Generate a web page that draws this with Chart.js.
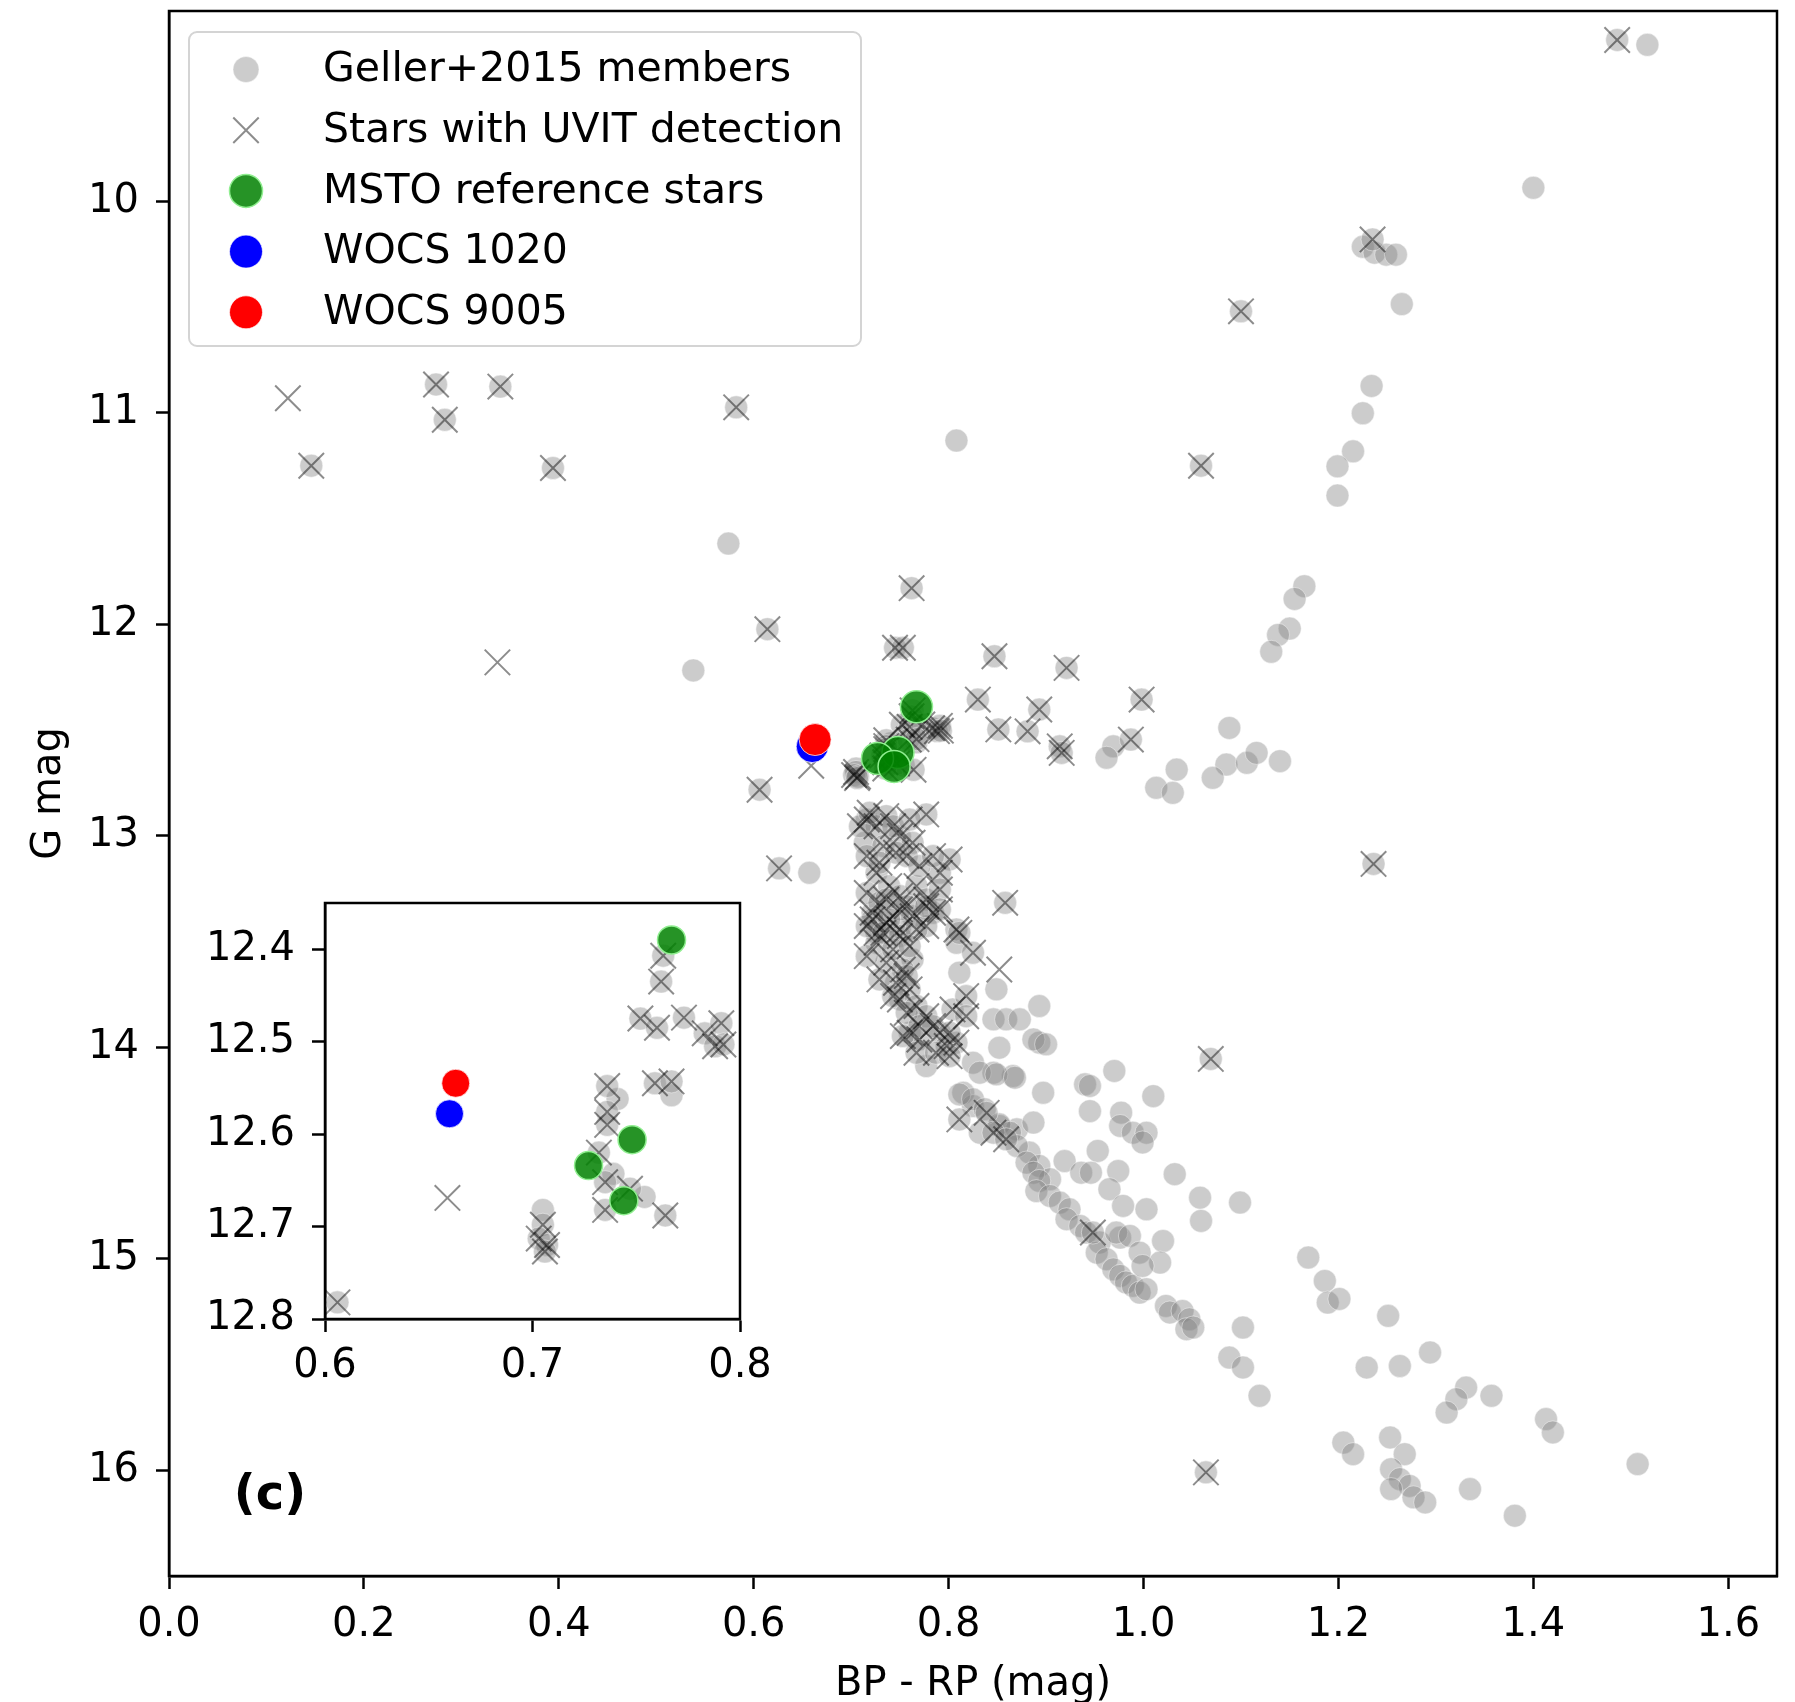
<!DOCTYPE html>
<html>
<head>
<meta charset="utf-8">
<title>Colour-magnitude diagram</title>
<script src="https://cdn.jsdelivr.net/npm/chart.js@4.4.0/dist/chart.umd.min.js"></script>
<style>
    html, body { margin: 0; padding: 0; background: #fff; }
    #wrap { position: relative; width: 1795px; height: 1702px; }
    #cmd-main { position: absolute; left: 0; top: 0; }
    #cmd-inset { position: absolute; left: 180px; top: 880px; }
</style>
</head>
<body>
<div id="wrap">
    <canvas id="cmd-main" width="1795" height="1702"></canvas>
    <canvas id="cmd-inset" width="600" height="520"></canvas>
</div>
<script>
// tick values
var xTicks = [ 0, 0.2, 0.4, 0.6, 0.8, 1.0, 1.2, 1.4, 1.6 ];
var yTicks = [ 10, 11, 12, 13, 14, 15, 16 ];
var insetXTicks = [ 0.6, 0.7, 0.8 ];
var insetYTicks = [ 12.4, 12.5, 12.6, 12.7, 12.8 ];

var legendLabels = [ 'Geller+2015 members', 'Stars with UVIT detection', 'MSTO reference stars', 'WOCS 1020', 'WOCS 9005' ];

// [BP-RP, G] members without a UVIT detection
var membersOnly = [
    [0.574, 11.618], [0.538, 12.218], [0.808, 11.131], [0.657, 13.175],
    [1.517, 9.260], [1.400, 9.936], [1.225, 10.215], [1.237, 10.243], [1.249, 10.252], [1.259, 10.252], [1.265, 10.486],
    [1.234, 10.873], [1.225, 11.002], [1.215, 11.182], [1.199, 11.253], [1.199, 11.391],
    [1.165, 11.820], [1.155, 11.880], [1.150, 12.020], [1.138, 12.050], [1.131, 12.130],
    [0.969, 12.577], [0.962, 12.631], [1.034, 12.687], [1.013, 12.773], [1.030, 12.797],
    [1.088, 12.490], [1.085, 12.663], [1.071, 12.726], [1.106, 12.655], [1.116, 12.608], [1.140, 12.647],
    [0.741, 12.562], [0.767, 12.558], [0.739, 12.643], [0.754, 12.668], [0.705, 12.682], [0.714, 13.033],
    [0.763, 13.585], [0.808, 13.506], [0.811, 13.647], [0.849, 13.726], [0.777, 14.089], [0.825, 14.073],
    [0.893, 13.805], [0.846, 13.868], [0.859, 13.868], [0.873, 13.868], [0.893, 13.978], [0.852, 14.002],
    [0.897, 14.215], [0.866, 14.136], [0.846, 14.120], [0.832, 14.120], [0.815, 14.215], [0.825, 14.278],
    [0.832, 14.404], [0.852, 14.372], [0.870, 14.388], [0.887, 14.356], [0.883, 14.498], [0.893, 14.561], [0.904, 14.624],
    [0.887, 13.963], [0.900, 13.986], [0.849, 14.128], [0.868, 14.144], [0.940, 14.175], [0.945, 14.183], [0.970, 14.112],
    [1.010, 14.231], [0.945, 14.302], [0.977, 14.309], [0.976, 14.372], [0.989, 14.404], [1.003, 14.404], [0.999, 14.450],
    [0.953, 14.490], [0.919, 14.538], [0.936, 14.593], [0.946, 14.593], [0.974, 14.585], [1.032, 14.600], [0.965, 14.671],
    [1.058, 14.711], [1.099, 14.734], [0.979, 14.750], [1.003, 14.766], [1.059, 14.821], [1.020, 14.916], [0.976, 14.900],
    [1.017, 15.018], [1.169, 14.994], [1.186, 15.105], [1.189, 15.207], [1.201, 15.190], [1.251, 15.270], [1.102, 15.325],
    [0.811, 14.223], [0.825, 14.246], [0.837, 14.293], [0.852, 14.364], [0.863, 14.404], [0.870, 14.467], [0.880, 14.545],
    [0.887, 14.593], [0.893, 14.632], [0.890, 14.680], [0.904, 14.703], [0.914, 14.734], [0.924, 14.766], [0.921, 14.813],
    [0.935, 14.845], [0.941, 14.876], [0.955, 14.923], [0.952, 14.971], [0.962, 15.002], [0.969, 15.050], [0.976, 15.081],
    [0.982, 15.112], [0.989, 15.128], [0.996, 15.160], [1.003, 15.144], [1.023, 15.223], [1.027, 15.254], [1.040, 15.247],
    [1.047, 15.286], [1.044, 15.333], [1.051, 15.325], [0.972, 14.876], [0.986, 14.892], [0.996, 14.971], [0.999, 15.034],
    [1.088, 15.467], [1.102, 15.514], [1.119, 15.648], [1.229, 15.514], [1.263, 15.507], [1.294, 15.443], [1.331, 15.609],
    [1.321, 15.664], [1.311, 15.727], [1.357, 15.648], [1.413, 15.758], [1.420, 15.821], [1.507, 15.971], [1.205, 15.869],
    [1.215, 15.924], [1.253, 15.845], [1.268, 15.924], [1.254, 15.995], [1.263, 16.042], [1.273, 16.074], [1.254, 16.089],
    [1.277, 16.128], [1.289, 16.152], [1.335, 16.089], [1.381, 16.215]
];

// members that also have a UVIT detection (circle + cross)
var uvitMembers = [
    [0.146, 11.250], [0.274, 10.866], [0.283, 11.033], [0.340, 10.876], [0.394, 11.261], [0.582, 10.974],
    [0.614, 12.023], [0.606, 12.782], [0.626, 13.154], [0.762, 11.829], [0.745, 12.111], [0.753, 12.111],
    [0.847, 12.151], [0.921, 12.206], [0.830, 12.356], [0.998, 12.356], [0.893, 12.403], [0.851, 12.497],
    [0.881, 12.506], [0.914, 12.577], [0.916, 12.608], [0.987, 12.545], [1.059, 11.250], [1.100, 10.520],
    [1.486, 9.237], [1.235, 10.180], [1.236, 13.133], [1.069, 14.055], [1.064, 16.010], [0.858, 13.317],
    [0.763, 12.407], [0.762, 12.435], [0.752, 12.475], [0.760, 12.485], [0.773, 12.474], [0.783, 12.491],
    [0.791, 12.480], [0.788, 12.505], [0.792, 12.503], [0.736, 12.548], [0.759, 12.545], [0.767, 12.543],
    [0.736, 12.576], [0.736, 12.590], [0.732, 12.620], [0.735, 12.652], [0.747, 12.659], [0.735, 12.682],
    [0.764, 12.688], [0.705, 12.698], [0.703, 12.713], [0.707, 12.720], [0.706, 12.727],
    [0.716, 12.923], [0.736, 12.907], [0.777, 12.899], [0.726, 12.955], [0.750, 13.002], [0.763, 13.033],
    [0.733, 13.049], [0.757, 13.096], [0.801, 13.112], [0.791, 13.175], [0.726, 13.175], [0.739, 13.238],
    [0.750, 13.285], [0.767, 13.238], [0.777, 13.301], [0.791, 13.254], [0.808, 13.443], [0.736, 13.411],
    [0.722, 13.364], [0.763, 13.380], [0.784, 13.364], [0.716, 13.270], [0.729, 13.317],
    [0.709, 12.955], [0.719, 12.891], [0.743, 12.955], [0.760, 12.923], [0.746, 13.080], [0.716, 13.096],
    [0.729, 13.127], [0.770, 13.143], [0.784, 13.096], [0.736, 13.301], [0.757, 13.333], [0.750, 13.443],
    [0.726, 13.459], [0.777, 13.427],
    [0.722, 13.395], [0.750, 13.348], [0.777, 13.333], [0.791, 13.348], [0.726, 13.506], [0.750, 13.474],
    [0.767, 13.443], [0.736, 13.600], [0.753, 13.632], [0.811, 13.459], [0.825, 13.553], [0.746, 13.695],
    [0.760, 13.726], [0.750, 13.774], [0.767, 13.805], [0.777, 13.853], [0.804, 13.821], [0.818, 13.758],
    [0.818, 13.853], [0.760, 13.931], [0.770, 13.963], [0.791, 13.931], [0.798, 13.994], [0.808, 13.978],
    [0.716, 13.427], [0.739, 13.395], [0.733, 13.459], [0.743, 13.537], [0.760, 13.522], [0.716, 13.569],
    [0.729, 13.679], [0.757, 13.663], [0.743, 13.758], [0.757, 13.837], [0.770, 13.900], [0.784, 13.900],
    [0.801, 13.931], [0.753, 13.947], [0.767, 14.026], [0.787, 14.026], [0.801, 14.042],
    [0.811, 14.341], [0.839, 14.310], [0.846, 14.404], [0.859, 14.435], [0.948, 14.876]
];

// UVIT detections that are not in the member list
var uvitOnly = [ [0.122, 10.931], [0.337, 12.180], [0.659, 12.669], [0.852, 13.632] ];

var mstoStars = [ [0.767, 12.390], [0.748, 12.606], [0.727, 12.634], [0.744, 12.672] ];
var wocs1020 = [ [0.660, 12.578] ];
var wocs9005 = [ [0.663, 12.545] ];

( function () {
    'use strict';

    var FONT = "'DejaVu Sans', 'Liberation Sans', sans-serif";

    function toXY( list ) {
        return list.map( function ( p ) { return { x: p[0], y: p[1] }; } );
    }

    // bigR: radius of the coloured highlight markers
    function buildDatasets( bigR ) {
        return [
            {
                label: legendLabels[4], data: toXY( wocs9005 ), order: 1, clip: 0,
                pointStyle: 'circle', pointRadius: bigR,
                pointBackgroundColor: '#ff0000', pointBorderColor: 'rgba(255,255,255,0.7)', pointBorderWidth: 1,
            },
            {
                label: legendLabels[3], data: toXY( wocs1020 ), order: 2, clip: 0,
                pointStyle: 'circle', pointRadius: bigR,
                pointBackgroundColor: '#0000ff', pointBorderColor: 'rgba(255,255,255,0.7)', pointBorderWidth: 1,
            },
            {
                label: legendLabels[2], data: toXY( mstoStars ), order: 3, clip: 0,
                pointStyle: 'circle', pointRadius: bigR,
                pointBackgroundColor: 'rgba(0,128,0,0.85)', pointBorderColor: '#90ee90', pointBorderWidth: 1.5,
            },
            {
                label: legendLabels[1], data: toXY( uvitMembers.concat( uvitOnly ) ), order: 4, clip: 0,
                pointStyle: 'crossRot', pointRadius: 18,
                pointBackgroundColor: 'rgba(0,0,0,0)', pointBorderColor: 'rgba(0,0,0,0.45)', pointBorderWidth: 2,
            },
            {
                label: legendLabels[0], data: toXY( membersOnly.concat( uvitMembers ) ), order: 5, clip: 0,
                pointStyle: 'circle', pointRadius: 11.5,
                pointBackgroundColor: 'rgba(128,128,128,0.4)', pointBorderColor: 'rgba(255,255,255,0.45)', pointBorderWidth: 1,
            },
        ];
    }

    function axis( min, max, list, digits, pad ) {
        return {
            type: 'linear',
            min: min,
            max: max,
            grid: { drawOnChartArea: false, drawTicks: true, tickLength: 13, tickWidth: 2.5, tickColor: '#000' },
            border: { display: true, color: '#000', width: 2.5 },
            ticks: {
                color: '#000',
                font: { family: FONT, size: 40 },
                padding: pad,
                autoSkip: false,
                maxRotation: 0,
                includeBounds: false,
                callback: function ( v ) { return Number( v ).toFixed( digits ); },
            },
            afterBuildTicks: function ( scale ) {
                scale.ticks = list.map( function ( v ) { return { value: v }; } );
            },
        };
    }

    function fixSize( key, size ) {
        return function ( s ) {
            s[ key ] = size;
            s.paddingTop = 0;
            s.paddingBottom = 0;
            s.paddingLeft = 0;
            s.paddingRight = 0;
        };
    }

    function drawMarker( ctx, ds, x, y, radius ) {
        ctx.save();
        ctx.fillStyle = ds.pointBackgroundColor;
        ctx.strokeStyle = ds.pointBorderColor;
        ctx.lineWidth = ds.pointBorderWidth;
        Chart.helpers.drawPoint( ctx, {
            pointStyle: ds.pointStyle, rotation: 0, radius: radius, borderWidth: ds.pointBorderWidth,
        }, x, y );
        ctx.restore();
    }

    var pageBg = {
        id: 'pageBg',
        beforeDraw: function ( chart ) {
            var ctx = chart.ctx;
            ctx.save();
            ctx.fillStyle = '#fff';
            ctx.fillRect( 0, 0, chart.width, chart.height );
            ctx.restore();
        },
    };

    var areaBg = {
        id: 'areaBg',
        beforeDraw: function ( chart ) {
            var a = chart.chartArea, ctx = chart.ctx;
            ctx.save();
            ctx.fillStyle = '#fff';
            ctx.fillRect( a.left, a.top, a.right - a.left, a.bottom - a.top );
            ctx.restore();
        },
    };

    var frame = {
        id: 'frame',
        afterDraw: function ( chart ) {
            var a = chart.chartArea, ctx = chart.ctx;
            ctx.save();
            ctx.strokeStyle = '#000';
            ctx.lineWidth = 2.5;
            ctx.strokeRect( a.left, a.top, a.right - a.left, a.bottom - a.top );
            ctx.restore();
        },
    };

    // legend box drawn inside the plot, top left
    var legendBox = {
        id: 'legendBox',
        afterDraw: function ( chart ) {
            var ctx = chart.ctx;
            var x0 = 189, y0 = 32, w = 672, h = 314, r = 8;
            ctx.save();
            ctx.beginPath();
            ctx.moveTo( x0 + r, y0 );
            ctx.arcTo( x0 + w, y0, x0 + w, y0 + h, r );
            ctx.arcTo( x0 + w, y0 + h, x0, y0 + h, r );
            ctx.arcTo( x0, y0 + h, x0, y0, r );
            ctx.arcTo( x0, y0, x0 + w, y0, r );
            ctx.closePath();
            ctx.fillStyle = 'rgba(255,255,255,0.85)';
            ctx.fill();
            ctx.strokeStyle = '#d4d4d4';
            ctx.lineWidth = 2;
            ctx.stroke();

            var sizes = [ 13, 18, 16.5, 16.5, 16.5 ];
            ctx.font = '41px ' + FONT;
            ctx.textBaseline = 'middle';
            legendLabels.forEach( function ( label, i ) {
                var ds = chart.data.datasets.filter( function ( d ) { return d.label === label; } )[0];
                var cy = 69.5 + i * 60.7;
                drawMarker( ctx, ds, 246, cy, sizes[i] );
                ctx.fillStyle = '#000';
                ctx.fillText( label, 323, cy + 1 );
            } );
            ctx.restore();
        },
    };

    var panelLabel = {
        id: 'panelLabel',
        afterDraw: function ( chart ) {
            var ctx = chart.ctx;
            ctx.save();
            ctx.font = 'bold 48px ' + FONT;
            ctx.fillStyle = '#000';
            ctx.textAlign = 'center';
            ctx.textBaseline = 'middle';
            ctx.fillText( '(c)', 270, 1497 );
            ctx.restore();
        },
    };

    document.addEventListener( 'DOMContentLoaded', function () {
        if ( ! window.Chart ) return;

        var xMain = axis( 0, 1.65, xTicks, 1, 13 );
        xMain.title = {
            display: true, text: 'BP - RP (mag)', color: '#000',
            font: { family: FONT, size: 40, lineHeight: 0.88 }, padding: { top: 0, bottom: 0 },
        };
        xMain.afterFit = fixSize( 'height', 126 );

        var yMain = axis( 9.1, 16.5, yTicks, 0, 17 );
        yMain.reverse = true;
        yMain.title = {
            display: true, text: 'G mag', color: '#000',
            font: { family: FONT, size: 40, lineHeight: 1.2 }, padding: { top: 26, bottom: 0 },
        };
        yMain.afterFit = fixSize( 'width', 169 );

        new Chart( document.getElementById( 'cmd-main' ), {
            type: 'scatter',
            data: { datasets: buildDatasets( 16 ) },
            options: {
                responsive: false,
                animation: false,
                devicePixelRatio: 1,
                events: [],
                layout: { autoPadding: false, padding: { left: 0, top: 11, right: 18, bottom: 0 } },
                plugins: { legend: { display: false }, tooltip: { enabled: false } },
                scales: { x: xMain, y: yMain },
            },
            plugins: [ pageBg, frame, legendBox, panelLabel ],
        } );

        var xInset = axis( 0.6, 0.8, insetXTicks, 1, 11 );
        xInset.afterFit = fixSize( 'height', 81 );
        var yInset = axis( 12.35, 12.8, insetYTicks, 1, 17 );
        yInset.reverse = true;
        yInset.afterFit = fixSize( 'width', 145 );

        new Chart( document.getElementById( 'cmd-inset' ), {
            type: 'scatter',
            data: { datasets: buildDatasets( 14 ) },
            options: {
                responsive: false,
                animation: false,
                devicePixelRatio: 1,
                events: [],
                layout: { autoPadding: false, padding: { left: 0, top: 23, right: 40, bottom: 0 } },
                plugins: { legend: { display: false }, tooltip: { enabled: false } },
                scales: { x: xInset, y: yInset },
            },
            plugins: [ areaBg, frame ],
        } );
    } );
} )();
</script>
</body>
</html>
